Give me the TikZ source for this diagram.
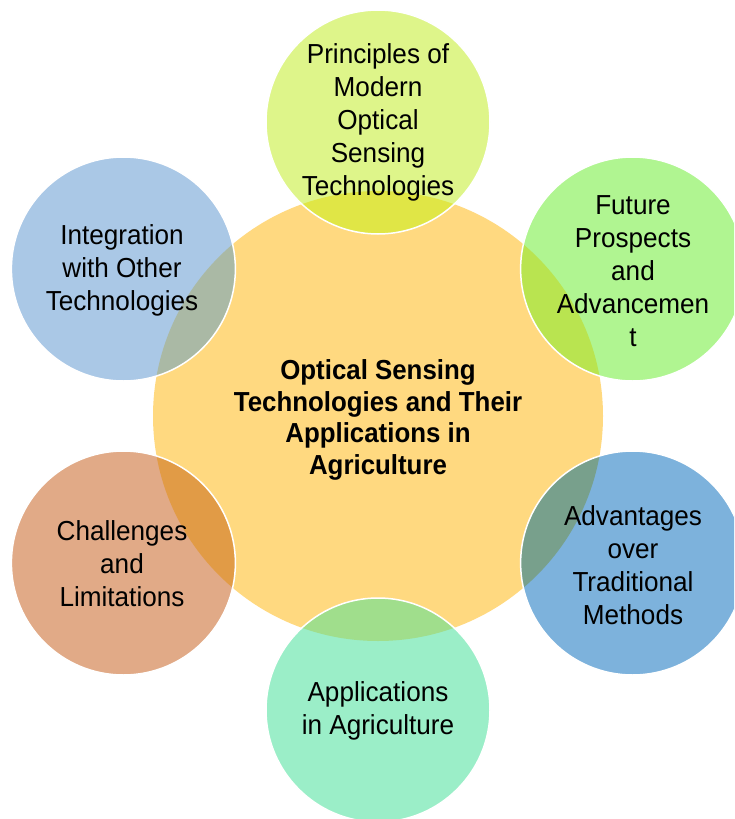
\documentclass[tikz,border=0pt]{standalone}
\usepackage{fontspec}
\setmainfont{Liberation Sans}
\newfontfamily\condsans[FakeStretch=0.95]{Liberation Sans}
\newfontfamily\condsansbold[FakeStretch=0.94]{Liberation Sans Bold}
\usetikzlibrary{calc}
\definecolor{cCenter}{HTML}{FFD980}
\definecolor{cTop}{HTML}{DEF58A}\definecolor{oTop}{HTML}{E0E646}
\definecolor{cUR}{HTML}{B0F591}\definecolor{oUR}{HTML}{B9E450}
\definecolor{cLR}{HTML}{7DB2DC}\definecolor{oLR}{HTML}{78A08C}
\definecolor{cBot}{HTML}{9BEEC8}\definecolor{oBot}{HTML}{A0DE8C}
\definecolor{cLL}{HTML}{E1AA87}\definecolor{oLL}{HTML}{E19B46}
\definecolor{cUL}{HTML}{AAC8E6}\definecolor{oUL}{HTML}{AAB9A5}
\begin{document}
\begin{tikzpicture}[x=1pt,y=-1pt,
  label text/.style={align=center, inner sep=0pt, font=\condsans\fontsize{27.5}{33}\selectfont},
  center text/.style={align=center, inner sep=0pt, font=\condsansbold\fontsize{27.5}{31.5}\selectfont},
  rim/.style={draw=white, line width=1.5pt}]
\useasboundingbox (0,0) rectangle (734,819);
\clip (0,0) rectangle (734,819);
\fill[white] (0,0) rectangle (734,819);
\coordinate (C) at (378,416);
\fill[cCenter] (C) circle (225pt);
% outer circles
\foreach \ang/\fc/\oc in {90/cTop/oTop,30/cUR/oUR,-30/cLR/oLR,-90/cBot/oBot,210/cLL/oLL,150/cUL/oUL}{
  \coordinate (P) at ($(C)+({294*cos(\ang)},{-294*sin(\ang)})$);
  \fill[\fc] (P) circle (112pt);
  \begin{scope}
    \clip (C) circle (225pt);
    \fill[\oc] (P) circle (112pt);
  \end{scope}
  \draw[rim] (P) circle (112pt);
}
\node[center text] (main) at (378,420) {Optical Sensing\\Technologies and Their\\Applications in\\Agriculture};
\node[label text] (top) at (378,122) {Principles of\\Modern\\Optical\\Sensing\\Technologies};
\node[label text] (ur) at (633,271) {Future\\Prospects\\and\\Advancemen\\t};
\node[label text] (lr) at (633,565) {Advantages\\over\\Traditional\\Methods};
\node[label text] (bot) at (378,711) {Applications\\in Agriculture};
\node[label text] (ll) at (122,564) {Challenges\\and\\Limitations};
\node[label text] (ul) at (122,270) {Integration\\with Other\\Technologies};
\end{tikzpicture}
\end{document}
